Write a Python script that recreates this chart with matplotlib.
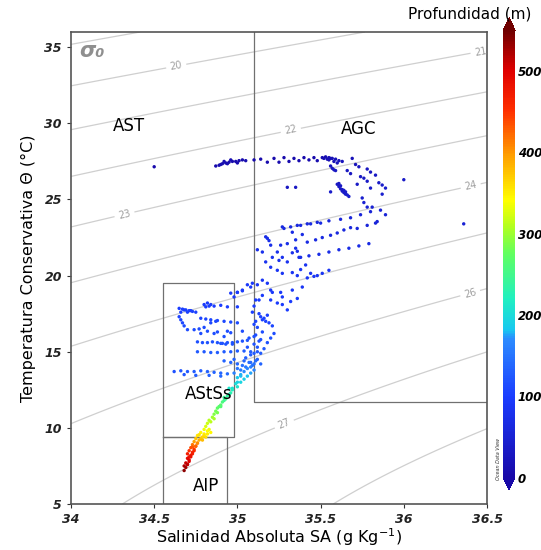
# =========================================================
# Diagrama T-S con isopicnas sigma0 y profundidad en color
# Masas de agua: AST, AGC, AStSs, AIP
# =========================================================

import numpy as np
import matplotlib
matplotlib.use("Agg")
import matplotlib.pyplot as plt
from matplotlib.colors import LinearSegmentedColormap

# ---------------------------------------------------------
# 1. Datos
# ---------------------------------------------------------
# capa superficial (~27.5 C)
sal_sup = [34.50, 34.87, 34.89, 34.91, 34.93, 34.95, 34.97, 34.99, 35.01, 35.03, 35.05,
           34.92, 34.96, 35.00, 34.90, 34.94,
           35.10, 35.14, 35.18, 35.22, 35.25, 35.28, 35.31, 35.34, 35.37, 35.40, 35.43,
           35.46, 35.48,
           35.51, 35.53, 35.55, 35.57, 35.59, 35.61, 35.63, 35.55, 35.58, 35.60, 35.52,
           35.56, 35.54, 35.56, 35.57, 35.58, 35.59]
tem_sup = [27.15, 27.20, 27.25, 27.35, 27.40, 27.45, 27.50, 27.50, 27.55, 27.60, 27.55,
           27.50, 27.60, 27.40, 27.30, 27.35,
           27.60, 27.65, 27.45, 27.70, 27.45, 27.75, 27.50, 27.70, 27.55, 27.75, 27.60,
           27.75, 27.55,
           27.75, 27.80, 27.75, 27.70, 27.65, 27.55, 27.50, 27.60, 27.50, 27.40, 27.70,
           27.70, 27.65, 27.20, 27.05, 26.95, 26.90]
prof_sup = [5, 8, 10, 12, 10, 8, 6, 5, 6, 8, 10,
            12, 9, 7, 11, 10,
            5, 6, 8, 5, 7, 5, 8, 6, 7, 5, 8,
            6, 9,
            10, 12, 15, 18, 20, 22, 25, 15, 18, 22, 12,
            14, 16, 25, 28, 30, 32]

# capa de mezcla / termoclina superior (22-27 C)
sal_mez = [35.69, 35.71, 35.73, 35.78, 35.80, 35.68, 35.74, 35.76, 35.78, 35.85, 35.87,
           35.89, 35.87, 35.80, 35.72, 35.66, 35.83,
           36.00, 36.36, 35.30, 35.35,
           35.60, 35.61, 35.62, 35.63, 35.64, 35.65, 35.67, 35.62, 35.64, 35.61, 35.66,
           35.63, 35.65,
           35.75, 35.76, 35.78, 35.81, 35.86, 35.89, 35.84, 35.83, 35.56,
           35.78, 35.72, 35.68, 35.64, 35.60, 35.56, 35.51, 35.47, 35.42,
           35.80, 35.74, 35.68, 35.62, 35.55, 35.48, 35.42, 35.36,
           35.79, 35.73, 35.67, 35.61, 35.55, 35.49, 35.43, 35.38]
tem_mez = [27.70, 27.30, 27.15, 27.00, 26.80, 26.70, 26.50, 26.40, 26.20, 26.10, 25.95,
           25.75, 25.35, 25.75, 26.00, 26.90, 26.60,
           26.30, 23.40, 25.80, 25.80,
           26.00, 25.85, 25.70, 25.55, 25.45, 25.35, 25.20, 25.90, 25.60, 26.05, 25.30,
           25.65, 25.50,
           25.10, 24.80, 24.50, 24.50, 24.30, 24.00, 23.55, 23.45, 25.50,
           23.30, 23.10, 23.15, 23.00, 22.80, 22.65, 22.50, 22.35, 22.20,
           24.20, 24.00, 23.80, 23.70, 23.60, 23.50, 23.40, 23.30,
           22.10, 21.95, 21.80, 21.70, 21.55, 21.40, 21.30, 21.20]
prof_mez = [20, 22, 25, 28, 30, 30, 32, 34, 36, 38, 40,
            42, 45, 40, 35, 28, 33,
            35, 50, 30, 32,
            30, 32, 34, 36, 38, 40, 42, 31, 37, 29, 41,
            35, 39,
            45, 48, 50, 50, 52, 55, 55, 56, 40,
            58, 60, 60, 62, 63, 64, 65, 66, 68,
            55, 56, 57, 58, 59, 60, 61, 62,
            68, 69, 70, 70, 71, 72, 72, 73]

# termoclina (19-23.5 C)
sal_ter = [35.27, 35.28, 35.32, 35.38, 35.44, 35.50, 35.33, 35.39, 35.35, 35.30, 35.26,
           35.18, 35.19, 35.17, 35.20, 35.24, 35.27, 35.33, 35.35, 35.36, 35.37, 35.30,
           35.25, 35.21, 35.15, 35.12, 35.17, 35.20, 35.24, 35.27, 35.33, 35.36, 35.38,
           35.41, 35.44, 35.48, 35.42, 35.46, 35.51, 35.55,
           35.12, 35.08, 35.03, 35.00, 34.98,
           35.15, 35.18, 35.20, 35.21, 35.15, 35.13, 35.20, 35.24, 35.27, 35.30, 35.26,
           35.27, 35.33, 35.39, 35.36, 35.32,
           35.13, 35.14, 35.15, 35.17, 35.19, 35.21, 35.16, 35.18]
tem_ter = [23.20, 23.10, 23.20, 23.30, 23.40, 23.45, 22.85, 22.70, 22.35, 22.10, 22.00,
           22.45, 22.30, 22.55, 22.00, 21.55, 21.20, 21.50, 21.80, 21.60, 21.20, 20.90,
           21.00, 21.20, 21.55, 21.70, 20.90, 20.55, 20.35, 20.15, 20.20, 20.00, 20.40,
           20.70, 20.15, 20.00, 19.85, 19.95, 20.15, 20.35,
           19.40, 19.25, 19.05, 18.90, 18.60,
           19.70, 19.50, 19.05, 18.90, 18.70, 18.40, 18.40, 18.20, 18.10, 17.75, 18.90,
           18.60, 19.05, 19.25, 18.50, 18.30,
           17.50, 17.30, 17.10, 17.00, 16.90, 16.70, 17.20, 17.40]
prof_ter = [65, 66, 66, 67, 67, 68, 70, 70, 72, 74, 75,
            72, 74, 71, 76, 78, 80, 78, 76, 77, 79, 82,
            81, 80, 78, 77, 83, 85, 86, 87, 86, 88, 86,
            84, 87, 88, 89, 89, 88, 86,
            90, 91, 92, 93, 94,
            88, 90, 92, 93, 95, 96, 96, 97, 98, 100, 93,
            95, 92, 90, 96, 97,
            102, 104, 105, 106, 107, 108, 105, 103]

# termoclina inferior (14-19.5 C)
sal_inf = [34.96, 35.00, 35.03, 35.06, 35.09,
           34.65, 34.67, 34.69, 34.71, 34.73, 34.66, 34.70,
           34.80, 34.82, 34.84, 34.86, 34.83, 34.81,
           34.90, 34.94, 35.00,
           34.65, 34.66, 34.67, 34.68, 34.70, 34.74, 34.77, 34.80, 34.84, 34.87,
           34.78, 34.81, 34.84, 34.88, 34.92, 34.96, 35.00,
           34.76, 34.79, 34.82, 34.85, 34.88, 34.91, 34.94, 34.97, 35.00, 35.03, 35.06,
           34.78, 34.86, 34.94, 35.03, 34.92, 34.82, 34.88, 34.96,
           35.12, 35.14, 35.18, 35.12, 35.10, 35.14, 35.16, 35.20, 35.22, 35.10, 35.11,
           35.09, 35.10, 35.11,
           34.76, 34.80, 34.84, 34.88, 34.92, 34.96, 35.00, 35.04, 35.08,
           34.92, 34.96, 35.00, 34.98, 35.04,
           35.05, 35.08, 35.12, 35.06, 35.10, 35.13, 35.07, 35.11, 35.15, 35.10, 35.08,
           35.12, 35.14, 34.68, 34.72, 34.75, 34.90, 34.93, 34.97]
tem_inf = [18.85, 18.90, 19.00, 19.40, 19.50,
           17.85, 17.80, 17.75, 17.70, 17.65, 17.60, 17.60,
           18.10, 18.20, 18.10, 18.00, 18.00, 17.95,
           18.05, 17.95, 17.95,
           17.30, 17.10, 16.90, 16.70, 16.45, 16.45, 16.50, 16.60, 16.90, 17.00,
           17.20, 17.15, 17.10, 17.05, 17.00, 16.95, 16.90,
           15.65, 15.60, 15.60, 15.65, 15.60, 15.55, 15.60, 15.60, 15.65, 15.70, 15.75,
           16.20, 16.20, 16.35, 16.35, 16.00, 16.35, 16.30, 16.25,
           16.60, 15.80, 15.60, 15.30, 14.90, 14.90, 15.20, 15.90, 16.20, 16.00, 17.00,
           17.60, 18.00, 18.40,
           15.00, 15.00, 14.95, 14.95, 15.00, 15.00, 15.05, 15.05, 15.00,
           14.40, 14.30, 14.20, 14.50, 14.40,
           14.60, 14.80, 15.00, 15.30, 15.50, 15.70, 15.90, 16.10, 16.30, 16.80, 14.30,
           14.50, 14.20, 17.75, 17.70, 17.60, 15.55, 15.50, 15.50]
prof_inf = [95, 96, 97, 94, 93,
            100, 101, 102, 103, 104, 102, 104,
            98, 97, 98, 99, 99, 100,
            100, 101, 102,
            106, 108, 110, 112, 114, 114, 113, 112, 110, 108,
            107, 108, 109, 110, 111, 112, 113,
            118, 118, 119, 119, 120, 120, 121, 121, 122, 122, 123,
            115, 115, 114, 114, 117, 114, 115, 116,
            112, 118, 120, 124, 128, 127, 125, 117, 115, 120, 108,
            103, 100, 98,
            126, 126, 127, 127, 128, 128, 129, 129, 130,
            134, 135, 136, 133, 136,
            132, 128, 125, 122, 121, 119, 118, 116, 114, 110, 138,
            134, 136, 101, 103, 104, 121, 121, 122]

# capa de transicion (13-14.3 C)
sal_tra = [34.62, 34.66, 34.70, 34.74, 34.78, 34.82, 34.86, 34.90, 34.94,
           34.68, 34.75, 34.83, 34.90,
           35.00, 35.03, 35.07, 34.98, 35.02, 35.05, 35.09, 35.11]
tem_tra = [13.70, 13.75, 13.70, 13.70, 13.75, 13.70, 13.65, 13.60, 13.55,
           13.50, 13.45, 13.45, 13.40,
           13.90, 14.10, 14.30, 13.60, 13.80, 14.00, 14.10, 14.40]
prof_tra = [120, 124, 126, 128, 130, 132, 134, 136, 140,
            124, 128, 132, 138,
            150, 146, 142, 160, 156, 152, 148, 140]

# cola profunda (7-14 C)
sal_prof = [35.10, 35.08, 35.06, 35.10, 35.04, 35.08, 35.02, 35.06, 35.00, 35.04,
            35.02, 34.99, 35.00, 34.97, 34.96, 34.94, 34.93, 34.91, 34.90, 34.88,
            34.87, 34.86, 34.85, 34.83, 34.82, 34.81, 34.80, 34.82, 34.78, 34.80,
            34.76, 34.79, 34.75, 34.77, 34.74, 34.76, 34.73, 34.75, 34.72, 34.74,
            34.71, 34.73, 34.70, 34.72, 34.70, 34.71, 34.69, 34.70, 34.68, 34.69,
            34.68, 34.95, 34.92, 34.89, 34.84, 34.77, 34.73, 34.71,
            34.70, 34.71, 34.72, 34.73, 34.74, 34.75, 34.76, 34.78, 34.80, 34.82,
            34.84, 34.79, 34.81, 34.83, 34.86, 34.88, 34.90, 34.92, 34.95, 34.97,
            35.00, 35.02]
tem_prof = [14.20, 14.00, 13.90, 13.80, 13.70, 13.60, 13.50, 13.40, 13.30, 13.20,
            13.00, 12.90, 12.70, 12.50, 12.30, 12.10, 11.90, 11.70, 11.50, 11.30,
            11.10, 10.90, 10.70, 10.50, 10.30, 10.10, 9.90, 9.80, 9.70, 9.60,
            9.50, 9.40, 9.30, 9.20, 9.10, 9.00, 8.90, 8.80, 8.70, 8.60,
            8.50, 8.40, 8.30, 8.20, 8.00, 7.80, 7.70, 7.60, 7.50, 7.40,
            7.20, 12.60, 12.00, 11.40, 10.40, 9.55, 8.75, 8.10,
            7.60, 7.90, 8.10, 8.30, 8.50, 8.80, 9.00, 9.30, 9.50, 9.60,
            9.70, 9.20, 9.40, 9.90, 10.60, 11.00, 11.40, 11.80, 12.20, 12.60,
            13.00, 13.40]
prof_prof = [150, 160, 165, 165, 170, 175, 178, 182, 185, 188,
             195, 200, 210, 220, 228, 238, 248, 256, 265, 272,
             282, 290, 300, 310, 318, 325, 335, 340, 345, 350,
             355, 365, 375, 385, 395, 405, 415, 425, 435, 445,
             455, 462, 470, 478, 490, 500, 510, 515, 522, 528,
             535, 212, 242, 268, 312, 358, 428, 480,
             515, 495, 482, 468, 455, 425, 405, 370, 355, 350,
             345, 380, 360, 335, 305, 285, 262, 245, 225, 205,
             190, 180]

# limites de masas de agua (S min, S max, T min, T max)
lim_astss = (34.55, 34.98, 9.4, 19.5)
lim_aip = (34.55, 34.94, 5.0, 9.4)
lim_agc = (35.10, 36.5, 11.7, 36.0)

niveles_sin_etiqueta = [19, 25, 28]
niveles_etiqueta = [20, 21, 22, 23, 24, 26, 27]
pos_etiquetas = [(34.63, 33.9), (36.46, 34.8), (35.32, 29.6), (34.32, 24.1),
                 (36.40, 26.0), (36.40, 18.8), (35.28, 10.3)]

# ---------------------------------------------------------
# 2. Densidad potencial (EOS-80 en superficie)
# ---------------------------------------------------------
def sigma0(sa, ct):
    s = sa / 1.0047
    t = ct
    rho_w = (999.842594 + 6.793952e-2 * t - 9.095290e-3 * t**2 + 1.001685e-4 * t**3
             - 1.120083e-6 * t**4 + 6.536332e-9 * t**5)
    a = 8.24493e-1 - 4.0899e-3 * t + 7.6438e-5 * t**2 - 8.2467e-7 * t**3 + 5.3875e-9 * t**4
    b = -5.72466e-3 + 1.0227e-4 * t - 1.6546e-6 * t**2
    c = 4.8314e-4
    return rho_w + a * s + b * s**1.5 + c * s**2 - 1000.0

sg, tg = np.meshgrid(np.linspace(34, 36.5, 250), np.linspace(5, 36, 250))
dens = sigma0(sg, tg)

# ---------------------------------------------------------
# 3. Figura
# ---------------------------------------------------------
cmap = LinearSegmentedColormap.from_list("odv", [
    (0.00, "#1808a8"), (0.18, "#1a3cff"), (0.31, "#2c8cff"), (0.33, "#18c8f0"),
    (0.40, "#20f0c0"), (0.50, "#60ff60"), (0.56, "#b0ff20"), (0.62, "#ffff00"),
    (0.72, "#ffa000"), (0.82, "#ff3000"), (0.91, "#e00000"), (1.00, "#700000")])

fig = plt.figure(figsize=(5.41, 5.5), dpi=100)
ax = fig.add_axes([0.1312, 0.0836, 0.769, 0.8582])
cax = fig.add_axes([0.9298, 0.1091, 0.0222, 0.8582])

ax.contour(sg, tg, dens, levels=niveles_sin_etiqueta, colors="#cfcfcf", linewidths=0.9, zorder=1)
cs = ax.contour(sg, tg, dens, levels=niveles_etiqueta, colors="#cfcfcf", linewidths=0.9, zorder=1)
ax.clabel(cs, fmt="%d", fontsize=7, colors="#a0a0a0", inline=True, inline_spacing=4,
          manual=pos_etiquetas)

sal = np.concatenate([sal_sup, sal_mez, sal_ter, sal_inf, sal_tra, sal_prof])
tem = np.concatenate([tem_sup, tem_mez, tem_ter, tem_inf, tem_tra, tem_prof])
prof = np.concatenate([prof_sup, prof_mez, prof_ter, prof_inf, prof_tra, prof_prof])
orden = np.argsort(prof)
sc = ax.scatter(sal[orden], tem[orden], c=prof[orden], cmap=cmap, vmin=0, vmax=550,
                s=6, linewidths=0, zorder=3)

# cajas de masas de agua
caja = dict(color="#707070", lw=0.9, zorder=2)
for s0, s1, t0, t1 in [lim_astss, lim_aip]:
    ax.plot([s0, s1, s1, s0, s0], [t0, t0, t1, t1, t0], **caja)
ax.plot([lim_agc[0], lim_agc[0], lim_agc[1]], [lim_agc[3], lim_agc[2], lim_agc[2]], **caja)

txt = dict(fontsize=12, color="black", ha="center", va="center", zorder=4)
ax.text(34.35, 29.8, "AST", **txt)
ax.text(35.73, 29.6, "AGC", **txt)
ax.text(34.83, 12.2, "AStSs", **txt)
ax.text(34.81, 6.2, "AIP", **txt)
ax.text(34.05, 34.75, "\u03c3\u2080", fontsize=15, color="#8f8f8f", fontweight="bold",
        fontstyle="italic", ha="left", va="center")

ax.set_xlim(34, 36.5)
ax.set_ylim(5, 36)
ax.set_xticks(np.arange(34, 36.51, 0.5))
ax.set_xticklabels(["34", "34.5", "35", "35.5", "36", "36.5"])
ax.set_yticks(np.arange(5, 36, 5))
for lab in ax.get_xticklabels() + ax.get_yticklabels():
    lab.set_fontweight("bold")
    lab.set_fontstyle("italic")
ax.tick_params(direction="out", length=3, width=0.8, labelsize=9, colors="#333333",
               labelcolor="#222222")
for sp in ax.spines.values():
    sp.set_color("#555555")
    sp.set_linewidth(1.2)

ax.set_xlabel("Salinidad Absoluta SA (g Kg$^{-1}$)", fontsize=11.5, labelpad=0)
ax.set_ylabel("Temperatura Conservativa \u0398 (\u00b0C)", fontsize=11.5, labelpad=6)

# barra de color
cb = fig.colorbar(sc, cax=cax, extend="both", extendfrac=0.027)
cb.set_ticks([0, 100, 200, 300, 400, 500])
cb.outline.set_visible(False)
cax.tick_params(length=0, labelsize=8.5, pad=2)
for lab in cax.get_yticklabels():
    lab.set_fontweight("bold")
    lab.set_fontstyle("italic")
fig.text(0.868, 0.975, "Profundidad (m)", fontsize=11, ha="center", va="center")
fig.text(0.922, 0.165, "Ocean Data View", fontsize=3.5, rotation=90, ha="center",
         va="center", color="#333333", fontstyle="italic")

fig.savefig("out.png", dpi=100)
